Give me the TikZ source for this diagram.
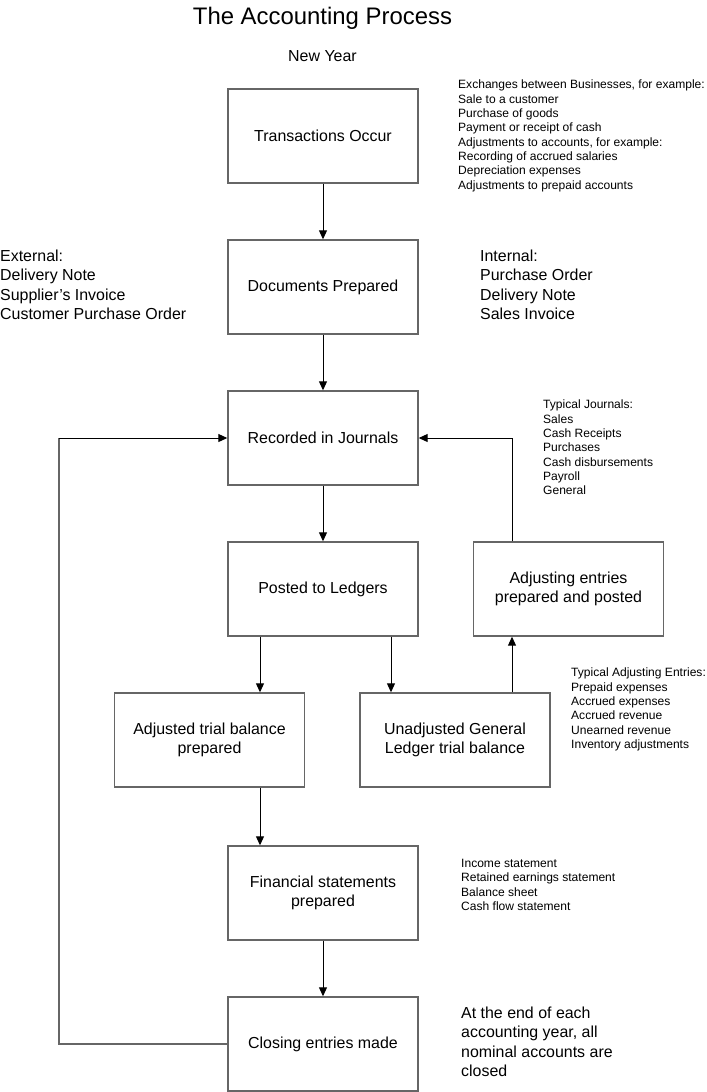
\documentclass[tikz,border=0pt]{standalone}
\usepackage{fontspec}
\setmainfont{Liberation Sans}
\usetikzlibrary{arrows.meta}
\begin{document}
\begin{tikzpicture}[x=1bp,y=-1bp,
  stepbox/.style={draw=black!60,line width=1.4bp,minimum width=190bp,minimum height=94bp,inner sep=0pt,align=center,font=\fontsize{16}{18.5}\selectfont},
  arr/.style={draw=black,line width=1bp,-{Triangle[length=9bp,width=8bp]}},
  loopline/.style={draw=black!60,line width=1.4bp},
  note/.style={anchor=north west,inner sep=0pt,align=left,font=\fontsize{12.1}{14.35}\selectfont},
  bignote/.style={anchor=north west,inner sep=0pt,align=left,font=\fontsize{16}{19.2}\selectfont}]
\useasboundingbox (0,0) rectangle (707,1092);
\node[font=\fontsize{24}{28}\selectfont] (title) at (322.5,18) {The Accounting Process};
\node[font=\fontsize{16}{18}\selectfont] (newyear) at (322.5,56) {New Year};

\node[stepbox] (trans) at (323,136) {Transactions Occur};
\node[stepbox] (docs) at (323,287) {Documents Prepared};
\node[stepbox] (journ) at (323,438) {Recorded in Journals};
\node[stepbox] (post) at (323,589) {Posted to Ledgers};
\node[stepbox] (adjent) at (568.5,589) {Adjusting entries\\prepared and posted};
\node[stepbox] (adjtb) at (209.5,740) {Adjusted trial balance\\prepared};
\node[stepbox] (unadj) at (455,740) {Unadjusted General\\Ledger trial balance};
\node[stepbox] (fin) at (323,893) {Financial statements\\prepared};
\node[stepbox] (close) at (323,1044) {Closing entries made};

\node[note] (exch) at (458,80) {Exchanges between Businesses, for example:\\Sale to a customer\\Purchase of goods\\Payment or receipt of cash\\Adjustments to accounts, for example:\\Recording of accrued salaries\\Depreciation expenses\\Adjustments to prepaid accounts};
\node[bignote] (ext) at (0,250) {External:\\Delivery Note\\Supplier's Invoice\\Customer Purchase Order};
\node[bignote] (int) at (480,250) {Internal:\\Purchase Order\\Delivery Note\\Sales Invoice};
\node[note] (journals) at (543,400) {Typical Journals:\\Sales\\Cash Receipts\\Purchases\\Cash disbursements\\Payroll\\General};
\node[note] (typadj) at (571,668) {Typical Adjusting Entries:\\Prepaid expenses\\Accrued expenses\\Accrued revenue\\Unearned revenue\\Inventory adjustments};
\node[note] (stmts) at (461,859) {Income statement\\Retained earnings statement\\Balance sheet\\Cash flow statement};
\node[bignote] (endyr) at (461,1007) {At the end of each\\accounting year, all\\nominal accounts are\\closed};

\draw[arr] (trans) -- (docs);
\draw[arr] (docs) -- (journ);
\draw[arr] (journ) -- (post);
\coordinate (pa) at (260,0);
\draw[arr] (pa |- post.south) -- (pa |- adjtb.north);
\coordinate (pb) at (391,0);
\draw[arr] (pb |- post.south) -- (pb |- unadj.north);
\coordinate (ua) at (512,0);
\draw[arr] (ua |- unadj.north) -- (ua |- adjent.south);
\draw[arr] (ua |- adjent.north) -- (ua |- journ.east) -- (journ.east);
\draw[arr] (pa |- adjtb.south) -- (pa |- fin.north);
\draw[arr] (fin) -- (close);
\coordinate (lc) at (59,1044);
\draw[loopline] (close.west) -- (lc) -- (lc |- journ.west);
\draw[arr] (lc |- journ.west) -- (journ.west);
\end{tikzpicture}
\end{document}
